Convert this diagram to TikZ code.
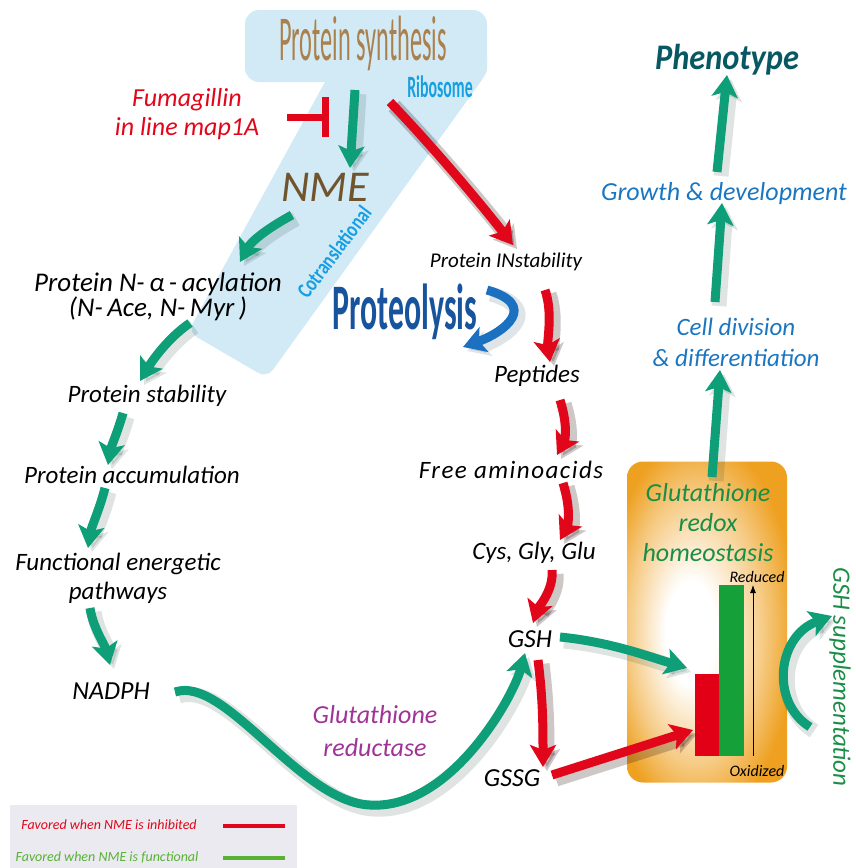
\documentclass[tikz,border=0pt]{standalone}
\usepackage{fontspec}
\setmainfont{Carlito}
\usetikzlibrary{arrows.meta,calc}

\definecolor{tealgr}{RGB}{14,158,120}
\definecolor{redarr}{RGB}{226,6,26}
\definecolor{bandblue}{RGB}{210,234,246}
\definecolor{synthbrown}{RGB}{170,128,76}
\definecolor{nmebrown}{RGB}{112,84,46}
\definecolor{ribocyan}{RGB}{22,160,226}
\definecolor{protblue}{RGB}{24,84,158}
\definecolor{arrblue}{RGB}{28,112,192}
\definecolor{growblue}{RGB}{26,118,192}
\definecolor{phenoteal}{RGB}{8,88,100}
\definecolor{grpurple}{RGB}{160,52,150}
\definecolor{redoxgreen}{RGB}{26,142,70}
\definecolor{boxorange}{RGB}{238,160,32}
\definecolor{barred}{RGB}{226,0,22}
\definecolor{bargreen}{RGB}{22,160,58}
\definecolor{leggray}{RGB}{234,234,240}
\definecolor{leggreen}{RGB}{88,178,52}

\newcommand{\fsz}[2]{\fontsize{#1}{#2}\selectfont}

\pgfdeclareradialshading[boxorange]{boxglow}{\pgfpoint{-6bp}{-2bp}}{%
  color(0bp)=(white); color(8bp)=(white); color(21bp)=(boxorange!55);
  color(30bp)=(boxorange); color(50bp)=(boxorange)}

\begin{document}
\begin{tikzpicture}[x=1pt, y=-1pt,
  txt/.style={font=\itshape\fsz{25}{29}, inner sep=1pt, align=center},
  soft/.style={preaction={draw=#1, opacity=0.13, line width=15pt,
      transform canvas={shift={(4pt,-4pt)}}}},
  garr/.style={draw=tealgr, soft=black!70!tealgr, line width=9pt,
      -{Stealth[length=22pt,width=26pt,inset=5pt]}},
  rarr/.style={garr, draw=redarr, soft=black!60!redarr}]
\useasboundingbox (0,0) rectangle (856,868);

% cotranslational band
\fill[bandblue, rounded corners=14pt] (245,10) rectangle (487,82);
\fill[bandblue, rounded corners=10pt] (337,60) -- (487,50) -- (487,73)
  -- (267,378) -- (188,332) -- cycle;

\node[font=\fsz{64}{70}, text=synthbrown, xscale=0.38] (synth) at (363,43) {Protein synthesis};
\node[font=\bfseries\fsz{31}{34}, text=ribocyan, xscale=0.51] (ribo) at (440,87) {Ribosome};
\node[font=\bfseries\fsz{22}{24}, text=ribocyan, rotate=53, xscale=0.78] (cotr) at (334,252) {Cotranslational};
\node[font=\itshape\fsz{44}{48}, text=nmebrown, inner sep=1pt] (nme) at (325,187) {NME};

% inhibitor
\node[txt, text=redarr, font=\itshape\fsz{26}{29}] (fuma) at (187,114) {Fumagillin\\in line map1A};
\coordinate (block) at (329,117);
\draw[draw=redarr, line width=7pt, -{Bar[width=40pt]}] ($(fuma)+(100,3)$) -- (block);

% left branch
\node[txt, font=\itshape\fsz{27}{25}] (acyl) at (158,297) {Protein N-\,α\,-\,acylation\\(N-\,Ace, N-\,Myr\,)};
\node[txt] (stab) at (147,396) {Protein stability};
\node[txt] (accum) at (132,475) {Protein accumulation};
\node[txt] (funct) at (118,578) {Functional energetic\\pathways};
\node[txt, font=\itshape\fsz{26}{29}] (nadph) at (111,691) {NADPH};

\draw[garr] ($(synth)+(-8,47)$) -- ($(nme)+(25,-19)$);
\draw[garr] ($(nme)+(-33,28)$) .. controls +(-22,12) and +(12,-22) .. ($(acyl)+(82,-35)$);
\draw[garr] ($(acyl)+(32,26)$) .. controls +(-22,15) and +(12,-20) .. ($(stab)+(-7,-15)$);
\draw[garr] ($(stab)+(-24,17)$) .. controls +(-5,18) and +(3,-18) .. ($(accum)+(-24,-10)$);
\draw[garr] ($(accum)+(-27,13)$) .. controls +(-5,20) and +(3,-20) .. ($(funct)+(-30,-30)$);
\draw[garr] ($(funct)+(-28,30)$) .. controls +(3,20) and +(-5,-20) .. ($(nadph)+(-1,-26)$);

% right branch
\node[txt, font=\itshape\fsz{21}{25}] (instab) at (506,262) {Protein INstability};
\node[font=\bfseries\fsz{65}{70}, text=protblue, xscale=0.49, inner sep=1pt] (proteo) at (405,312) {Proteolysis};
\node[txt] (pept) at (537,376) {Peptides};
\node[txt, font=\itshape\fsz{25}{29}\addfontfeature{LetterSpace=6}] (free) at (511,470) {Free aminoacids};
\node[txt] (cys) at (534,553) {Cys, Gly, Glu};
\node[txt, font=\itshape\fsz{26}{29}] (gsh) at (530,639) {GSH};
\node[txt, font=\itshape\fsz{26}{29}] (gssg) at (512,778) {GSSG};
\node[txt, text=grpurple, font=\itshape\fsz{26}{33}] (glured) at (375,731) {Glutathione\\reductase};

\draw[rarr] ($(ribo)+(-50,15)$) .. controls +(42,44) and +(-36,-46) .. ($(instab)+(7,-17)$);
\draw[draw=arrblue, soft=black!60!arrblue, line width=9pt, -{Stealth[length=22pt,width=26pt,inset=5pt]}]
  ($(proteo)+(82,-22)$) .. controls +(52,15) and +(42,-15) .. ($(proteo)+(58,35)$);
\draw[rarr] ($(instab)+(39,28)$) .. controls +(8,22) and +(-3,-20) .. ($(pept)+(13,-14)$);
\draw[rarr] ($(pept)+(23,24)$) .. controls +(8,25) and +(8,-15) .. ($(free)+(46,-15)$);
\draw[rarr] ($(free)+(52,13)$) .. controls +(8,25) and +(8,-15) .. ($(cys)+(26,-13)$);
\draw[rarr] ($(cys)+(18,17)$) .. controls +(2,20) and +(5,-15) .. ($(gsh)+(3,-16)$);
\draw[rarr] ($(gsh)+(8,21)$) .. controls +(5,40) and +(0,-40) .. ($(gssg)+(31,-11)$);

\coordinate (dip) at (370,805);
\draw[garr] ($(nadph)+(64,1)$) .. controls +(50,-17) and +(-70,-3) .. (dip)
  .. controls +(80,5) and +(-12,45) .. ($(gsh)+(-5,14)$);

% glutathione redox box
\node[rounded corners=16pt, minimum width=160pt, minimum height=321pt, shading=boxglow, inner sep=0pt] (hbox) at (707,622) {};
\node[txt, text=redoxgreen, font=\itshape\fsz{26}{30}] (redox) at (708,523) {Glutathione\\redox\\homeostasis};
\fill[barred] (695,674) rectangle (719,756);
\fill[bargreen] (719,585) rectangle (744,756);
\node[font=\itshape\fsz{16}{18}, inner sep=1pt] (reduced) at (757,577) {Reduced};
\node[font=\itshape\fsz{16}{18}, inner sep=1pt] (oxidized) at (757,771) {Oxidized};
\draw[line width=0.8pt, -{Latex[length=8pt,width=6pt]}] ($(oxidized)+(-4,-15)$) -- ($(reduced)+(-4,8)$);

\draw[garr] ($(gsh)+(30,-2)$) .. controls +(50,5) and +(-40,-12) .. ($(hbox)+(-20,46)$);
\draw[rarr] ($(gssg)+(40,-3)$) -- ($(hbox)+(-14,108)$);

\node[txt, text=redoxgreen, rotate=-90] (supp) at (840,677) {GSH supplementation};
\draw[garr] ($(supp)+(-30,50)$) .. controls +(-40,-25) and +(-55,20) .. ($(supp)+(-8,-61)$);

% phenotype column
\node[txt, text=growblue, font=\itshape\fsz{25}{31}] (cell) at (736,342) {Cell division\\\& differentiation};
\node[txt, text=growblue, font=\itshape\fsz{26}{30}] (growth) at (724,194) {Growth \& development};
\node[font=\bfseries\itshape\fsz{36}{40}, text=phenoteal, xscale=0.9, inner sep=1pt] (pheno) at (727,60) {Phenotype};

\draw[garr] ($(hbox)+(5,-145)$) -- ($(cell)+(-16,28)$);
\draw[garr] ($(cell)+(-21,-40)$) -- ($(growth)+(-2,9)$);
\draw[garr] ($(growth)+(-7,-22)$) -- ($(pheno)+(0,15)$);

% legend
\fill[leggray] (10,805) rectangle (297,868);
\node[font=\itshape\fsz{14}{16}, text=redarr, inner sep=1pt] (leginh) at (109,825) {Favored when NME is inhibited};
\node[font=\itshape\fsz{14}{16}, text=leggreen, inner sep=1pt] (legfun) at (107,857) {Favored when NME is functional};
\draw[redarr, line width=4pt] ($(leginh)+(114,1)$) -- +(62,0);
\draw[leggreen, line width=4pt] ($(legfun)+(116,1)$) -- +(62,0);
\end{tikzpicture}
\end{document}
